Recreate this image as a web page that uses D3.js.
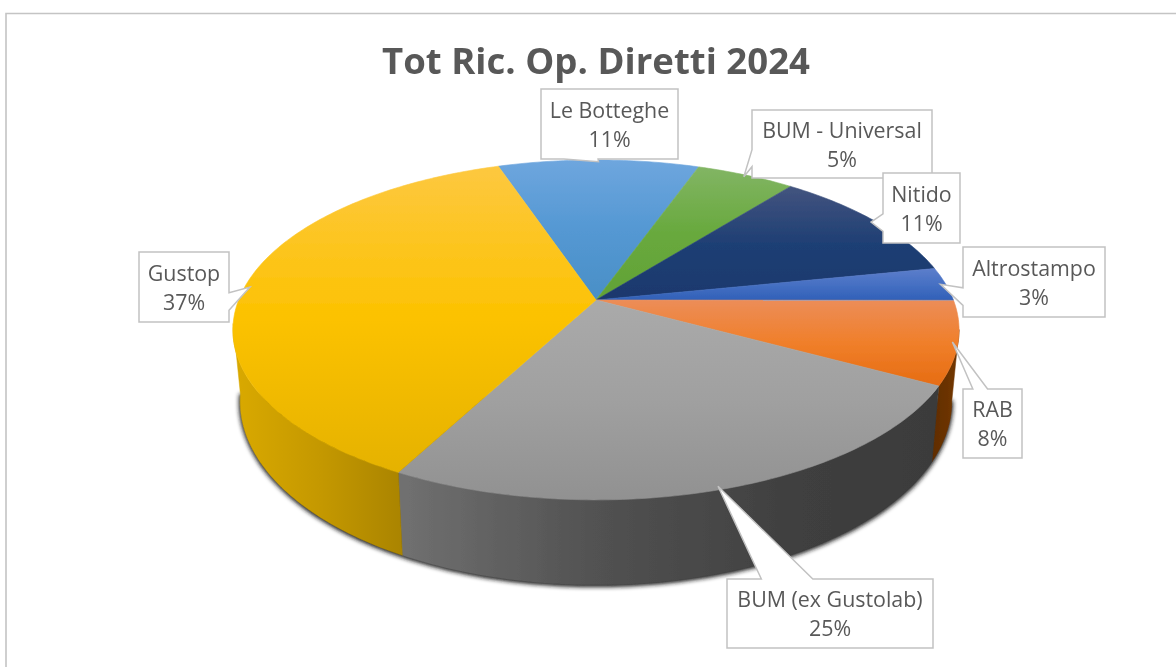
<!DOCTYPE html>
<html><head><meta charset="utf-8">
<script src="https://cdn.jsdelivr.net/npm/d3@7"></script>
<style>html,body{margin:0;padding:0;background:#fff}svg{display:block}</style>
</head><body><svg id="c" width="1176" height="667"></svg>
<script>
const chartTitle = "Tot Ric. Op. Diretti 2024";
const categories = ["Le Botteghe","BUM - Universal","Nitido","Altrostampo","RAB","BUM (ex Gustolab)","Gustop"];
const values = [10.6,5.2,11.2,3.2,7.9,24.8,37.1];
// top-surface gradient stops, per slice
const topColors = [
  ["#6ea6de","#5498d3","#4a8fc6"],
  ["#82b564","#68a93d","#62a236"],
  ["#43547f","#1f3f74","#1b386d"],
  ["#5d7ecb","#4670c3","#3060b8"],
  ["#ec8d58","#f07f2a","#e66c12"],
  ["#aaaaaa","#a0a0a0","#919191"],
  ["#fdc840","#fcc200","#e5b200"]
];
const wallColors = [null,null,null,null,
  ["#5f2c02","#6f3503"],
  ["#707070","#525252","#3f3f3f","#3b3b3b"],
  ["#d8a800","#c49800","#aa8400"]];
// label boxes [x, y, w, h]
const labelBoxes = [[541,89,137,70],[752,110,180,68],[883,173,77,70],[963,247,142,70],[963,389,59,69],[727,579,206,69],[139,252,90,70]];

const svg = d3.select("#c");
const defs = svg.append("defs");
const root = svg.append("g").attr("filter","url(#soft)");
const cx=596, cy=300, k=0.176, R=357.4, Ry=164.7, depthOff=69, depthY=1.08, depthX=0.98;
const xS = d3.scaleLinear().domain([-1,1]).range([cx-R,cx+R]);
const yS = d3.scaleLinear().domain([-1,1]).range([cy+Ry,cy-Ry]);
const xB = d3.scaleLinear().domain([-1,1]).range([cx-R*depthX,cx+R*depthX]);
const yB = d3.scaleLinear().domain([-1,1]).range([cy+Ry*depthY+depthOff,cy-Ry*depthY+depthOff]);
function proj(a,r=1,x=xS,y=yS){const u=Math.sin(a)*r,v=Math.cos(a)*r,w=1+k*v;return [x(u/w),y(v/w)];}
const rad=d=>d*Math.PI/180;
const start=rad(-18.6), wallFrom=rad(100), wallTo=rad(262);
const arcs=d3.pie().sort(null).startAngle(start).endAngle(start+2*Math.PI)(values);
const line=d3.line();
const samples=(a,b)=>{const n=Math.max(4,Math.ceil((b-a)*60));return d3.range(n+1).map(i=>a+(b-a)*i/n);};

// frame
root.append("path").attr("d","M6,667V13.5H1176").attr("fill","none").attr("stroke","#c4c4c4").attr("stroke-width",1.6);

// gradients
arcs.forEach((d,i)=>{
  const g=defs.append("linearGradient").attr("id","t"+i).attr("gradientUnits","userSpaceOnUse")
    .attr("x1",0).attr("x2",0);
  const pts=samples(d.startAngle,d.endAngle).map(a=>proj(a)[1]).concat([cy]);
  g.attr("y1",d3.min(pts)).attr("y2",d3.max(pts));
  topColors[i].forEach((c,j,all)=>g.append("stop").attr("offset",j/(all.length-1)).attr("stop-color",c));
});
defs.append("filter").attr("id","sh").attr("x","-5%").attr("y","-5%").attr("width","110%").attr("height","110%")
  .append("feGaussianBlur").attr("stdDeviation",2.2);
defs.append("filter").attr("id","soft").attr("filterUnits","userSpaceOnUse")
  .attr("x",0).attr("y",0).attr("width",1176).attr("height",667)
  .append("feGaussianBlur").attr("stdDeviation",0.45);

// walls
const wallArcs=arcs.map((d,i)=>({d,i})).filter(o=>wallColors[o.i]);
const wallRange=o=>[Math.max(o.d.startAngle,wallFrom),Math.min(o.d.endAngle,wallTo)];
function wallPath(o){
  const s=samples(...wallRange(o));
  return line(s.map(t=>proj(t)).concat(s.slice().reverse().map(t=>proj(t,1,xB,yB))))+"Z";
}
// soft shadow under the lower rim
root.append("path").attr("filter","url(#sh)").attr("transform","translate(0,1)")
  .attr("d",line(samples(wallFrom,wallTo).map(t=>proj(t,1,xB,yB)))+"Z")
  .attr("fill","#1a1a1a").attr("stroke","#1a1a1a").attr("stroke-width",2.5);
const pie=root.append("g");
wallArcs.forEach(o=>{
  const s=samples(...wallRange(o)).map(t=>proj(t,1,xB,yB)[0]);
  const g=defs.append("linearGradient").attr("id","w"+o.i).attr("gradientUnits","userSpaceOnUse")
    .attr("y1",0).attr("y2",0).attr("x1",d3.min(s)).attr("x2",d3.max(s));
  const cols=wallColors[o.i];
  cols.forEach((c,j)=>g.append("stop").attr("offset",o.i===5?[0,0.36,0.75,1][j]:j/(cols.length-1)).attr("stop-color",c));
});
pie.selectAll("path.wall").data(wallArcs).join("path").attr("class","wall").attr("d",wallPath)
  .attr("fill",o=>`url(#w${o.i})`).attr("stroke",o=>`url(#w${o.i})`).attr("stroke-width",0.5);

// top surface
pie.selectAll("path.top").data(arcs).join("path").attr("class","top")
  .attr("d",d=>line([[cx,cy]].concat(samples(d.startAngle,d.endAngle).map(t=>proj(t))))+"Z")
  .attr("fill",(d,i)=>`url(#t${i})`).attr("stroke",(d,i)=>`url(#t${i})`).attr("stroke-width",0.6);

// title
root.append("text").attr("x",596).attr("y",74).attr("text-anchor","middle")
  .attr("font-family","'Open Sans'").attr("font-weight",700).attr("font-size",36).attr("fill","#595959")
  .attr("textLength",428).attr("lengthAdjust","spacingAndGlyphs").text(chartTitle);

// callouts (rectangular wedge callout geometry)
function callout(b,tip){
  const [x,y,w,h]=b, dx=tip[0]-(x+w/2), dy=tip[1]-(y+h/2);
  const horiz=Math.abs(dx*h)>Math.abs(dy*w);
  const sx=dx<0?[2/12,5/12]:[7/12,10/12], sy=dy<0?[2/12,5/12]:[7/12,10/12];
  const P=[[x,y]];
  if(!horiz&&dy<0) P.push([x+w*sx[0],y],tip,[x+w*sx[1],y]);
  P.push([x+w,y]);
  if(horiz&&dx>0) P.push([x+w,y+h*sy[0]],tip,[x+w,y+h*sy[1]]);
  P.push([x+w,y+h]);
  if(!horiz&&dy>0) P.push([x+w*sx[1],y+h],tip,[x+w*sx[0],y+h]);
  P.push([x,y+h]);
  if(horiz&&dx<0) P.push([x,y+h*sy[1]],tip,[x,y+h*sy[0]]);
  return line(P)+"Z";
}
const total=d3.sum(values), pct=d3.format(".0%");
const labels=root.append("g");
arcs.forEach((d,i)=>{
  const b=labelBoxes[i], tip=proj((d.startAngle+d.endAngle)/2,0.985);
  const g=labels.append("g");
  g.append("path").attr("d",callout(b,tip)).attr("fill","#fff").attr("stroke","#c2c2c2").attr("stroke-width",1.5);
  const t=g.append("text").attr("text-anchor","middle").attr("font-family","'Open Sans'").attr("font-size",21.4).attr("fill","#595959");
  t.append("tspan").attr("x",b[0]+b[2]/2).attr("y",b[1]+b[3]/2-6.5).text(categories[i]);
  t.append("tspan").attr("x",b[0]+b[2]/2).attr("y",b[1]+b[3]/2+22.5).text(pct(d.data/total));
});
</script></body></html>
